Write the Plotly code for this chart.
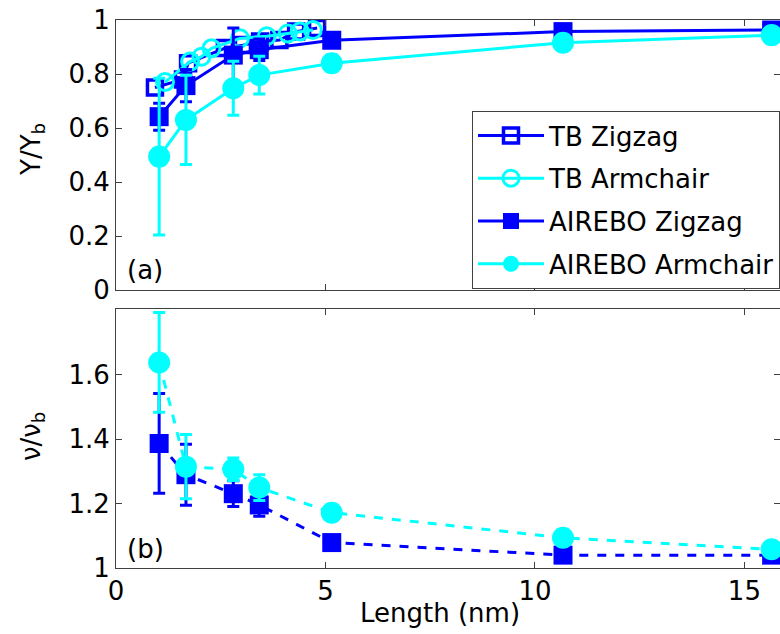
import plotly.graph_objects as go
from plotly.subplots import make_subplots

# ---------------- data ----------------
# AIREBO lengths (nm)
airebo_len = [1.03, 1.67, 2.80, 3.42, 5.15, 10.67, 15.65]

# Panel (a): Young's modulus ratio Y/Yb
airebo_zz_Y = [0.642, 0.757, 0.870, 0.890, 0.925, 0.957, 0.963]
airebo_zz_Y_err = [0.05, 0.06, 0.10, 0.04, 0.02, 0.0, 0.0]
airebo_ac_Y = [0.494, 0.630, 0.747, 0.796, 0.840, 0.916, 0.944]
airebo_ac_Y_err = [0.29, 0.165, 0.10, 0.07, 0.03, 0.0, 0.0]

tb_zz_len = [0.93, 1.60, 1.72, 2.60, 3.03, 3.44, 3.90, 4.30, 4.80]
tb_zz_Y = [0.750, 0.780, 0.840, 0.896, 0.907, 0.920, 0.926, 0.957, 0.970]
tb_ac_len = [1.17, 1.77, 2.04, 2.28, 2.96, 3.60, 4.10, 4.39, 4.70]
tb_ac_Y = [0.770, 0.846, 0.864, 0.895, 0.932, 0.940, 0.950, 0.957, 0.963]

# Panel (b): Poisson ratio nu/nub
airebo_zz_nu = [1.387, 1.290, 1.231, 1.196, 1.079, 1.040, 1.040]
airebo_zz_nu_err = [0.155, 0.095, 0.04, 0.035, 0.0, 0.0, 0.0]
airebo_ac_nu = [1.639, 1.315, 1.307, 1.250, 1.172, 1.094, 1.058]
airebo_ac_nu_err = [0.155, 0.10, 0.035, 0.04, 0.0, 0.0, 0.0]

x_ticks = [0, 5, 10, 15]
y_ticks_a = [0, 0.2, 0.4, 0.6, 0.8, 1]
y_ticks_b = [1, 1.2, 1.4, 1.6]

BLUE = "#0000FF"
CYAN = "#00FFFF"
FONT = "DejaVu Sans, Arial, sans-serif"
FS = 26

# ---------------- figure ----------------
W, H = 780, 634
ML, MR, MT, MB = 116, 0, 20, 66
PH = H - MT - MB
PW = W - ML - MR
top_dom = [(H - MB - 290) / PH, 1.0]
bot_dom = [0.0, (H - MB - 309) / PH]

fig = make_subplots(rows=2, cols=1, shared_xaxes=False)

# Panel (a)
fig.add_trace(go.Scatter(
    x=tb_zz_len, y=tb_zz_Y, name="TB Zigzag", mode="lines+markers",
    line=dict(color=BLUE, width=3),
    marker=dict(symbol="square-open", size=15, color=BLUE, line=dict(width=3.5, color=BLUE)),
    legendgroup="g1"), row=1, col=1)
fig.add_trace(go.Scatter(
    x=tb_ac_len, y=tb_ac_Y, name="TB Armchair", mode="lines+markers",
    line=dict(color=CYAN, width=3),
    marker=dict(symbol="circle-open", size=17, color=CYAN, line=dict(width=3, color=CYAN)),
    legendgroup="g2"), row=1, col=1)
fig.add_trace(go.Scatter(
    x=airebo_len, y=airebo_zz_Y, name="AIREBO Zigzag", mode="lines+markers",
    line=dict(color=BLUE, width=3),
    marker=dict(symbol="square", size=19, color=BLUE),
    error_y=dict(type="data", array=airebo_zz_Y_err, color=BLUE, thickness=3, width=6),
    legendgroup="g3"), row=1, col=1)
fig.add_trace(go.Scatter(
    x=airebo_len, y=airebo_ac_Y, name="AIREBO Armchair", mode="lines+markers",
    line=dict(color=CYAN, width=3),
    marker=dict(symbol="circle", size=22, color=CYAN),
    error_y=dict(type="data", array=airebo_ac_Y_err, color=CYAN, thickness=3, width=6),
    legendgroup="g4"), row=1, col=1)

# Panel (b)
fig.add_trace(go.Scatter(
    x=airebo_len, y=airebo_zz_nu, mode="lines+markers", showlegend=False,
    line=dict(color=BLUE, width=3, dash="dash"),
    marker=dict(symbol="square", size=19, color=BLUE),
    error_y=dict(type="data", array=airebo_zz_nu_err, color=BLUE, thickness=3, width=6)),
    row=2, col=1)
fig.add_trace(go.Scatter(
    x=airebo_len, y=airebo_ac_nu, mode="lines+markers", showlegend=False,
    line=dict(color=CYAN, width=3, dash="dash"),
    marker=dict(symbol="circle", size=22, color=CYAN),
    error_y=dict(type="data", array=airebo_ac_nu_err, color=CYAN, thickness=3, width=6)),
    row=2, col=1)

axis_common = dict(showline=True, linecolor="#404040", linewidth=1, mirror="ticks",
                   ticks="inside", ticklen=6, tickcolor="#404040", showgrid=False,
                   zeroline=False, tickfont=dict(family=FONT, size=FS, color="black"))

fig.update_xaxes(range=[0, 15.85], tickvals=x_ticks, **axis_common)
fig.update_xaxes(showticklabels=False, row=1, col=1)
fig.update_xaxes(ticktext=[str(v) for v in x_ticks], row=2, col=1)
fig.update_yaxes(domain=top_dom, row=1, col=1)
fig.update_yaxes(domain=bot_dom, row=2, col=1)
fig.update_yaxes(range=[0, 1], tickvals=y_ticks_a,
                 ticktext=["0", "0.2", "0.4", "0.6", "0.8", "1"], row=1, col=1, **axis_common)
fig.update_yaxes(range=[1, 1.805], tickvals=y_ticks_b,
                 ticktext=["1", "1.2", "1.4", "1.6"], row=2, col=1, **axis_common)

fig.update_layout(
    width=W, height=H,
    margin=dict(l=ML, r=MR, t=MT, b=MB, pad=0),
    paper_bgcolor="white", plot_bgcolor="white",
    font=dict(family=FONT, size=FS, color="black"),
    legend=dict(x=(472 - ML) / PW, y=(H - MB - 111) / PH,
                xanchor="left", yanchor="top",
                bordercolor="#404040", borderwidth=1, bgcolor="white",
                font=dict(family=FONT, size=FS, color="black"),
                tracegroupgap=6, traceorder="grouped", itemwidth=66),
    annotations=[
        dict(text="(a)", x=0.22, y=0.075, xref="x", yref="y", xanchor="left", yanchor="middle",
             showarrow=False, font=dict(family=FONT, size=FS)),
        dict(text="(b)", x=0.22, y=1.06, xref="x2", yref="y2", xanchor="left", yanchor="middle",
             showarrow=False, font=dict(family=FONT, size=FS)),
        dict(text="Y/Y<sub>b</sub>", x=(32 - ML) / PW, y=(H - MB - 150) / PH,
             xref="paper", yref="paper", textangle=-90, showarrow=False,
             xanchor="center", yanchor="middle", font=dict(family=FONT, size=FS)),
        dict(text="ν/ν<sub>b</sub>", x=(32 - ML) / PW, y=(H - MB - 437) / PH,
             xref="paper", yref="paper", textangle=-90, showarrow=False,
             xanchor="center", yanchor="middle", font=dict(family=FONT, size=FS)),
        dict(text="Length (nm)", x=(440 - ML) / PW, y=(H - MB - 613) / PH, xref="paper", yref="paper",
             showarrow=False, xanchor="center", yanchor="middle",
             font=dict(family=FONT, size=FS)),
    ],
)

fig.write_html("out.html")
